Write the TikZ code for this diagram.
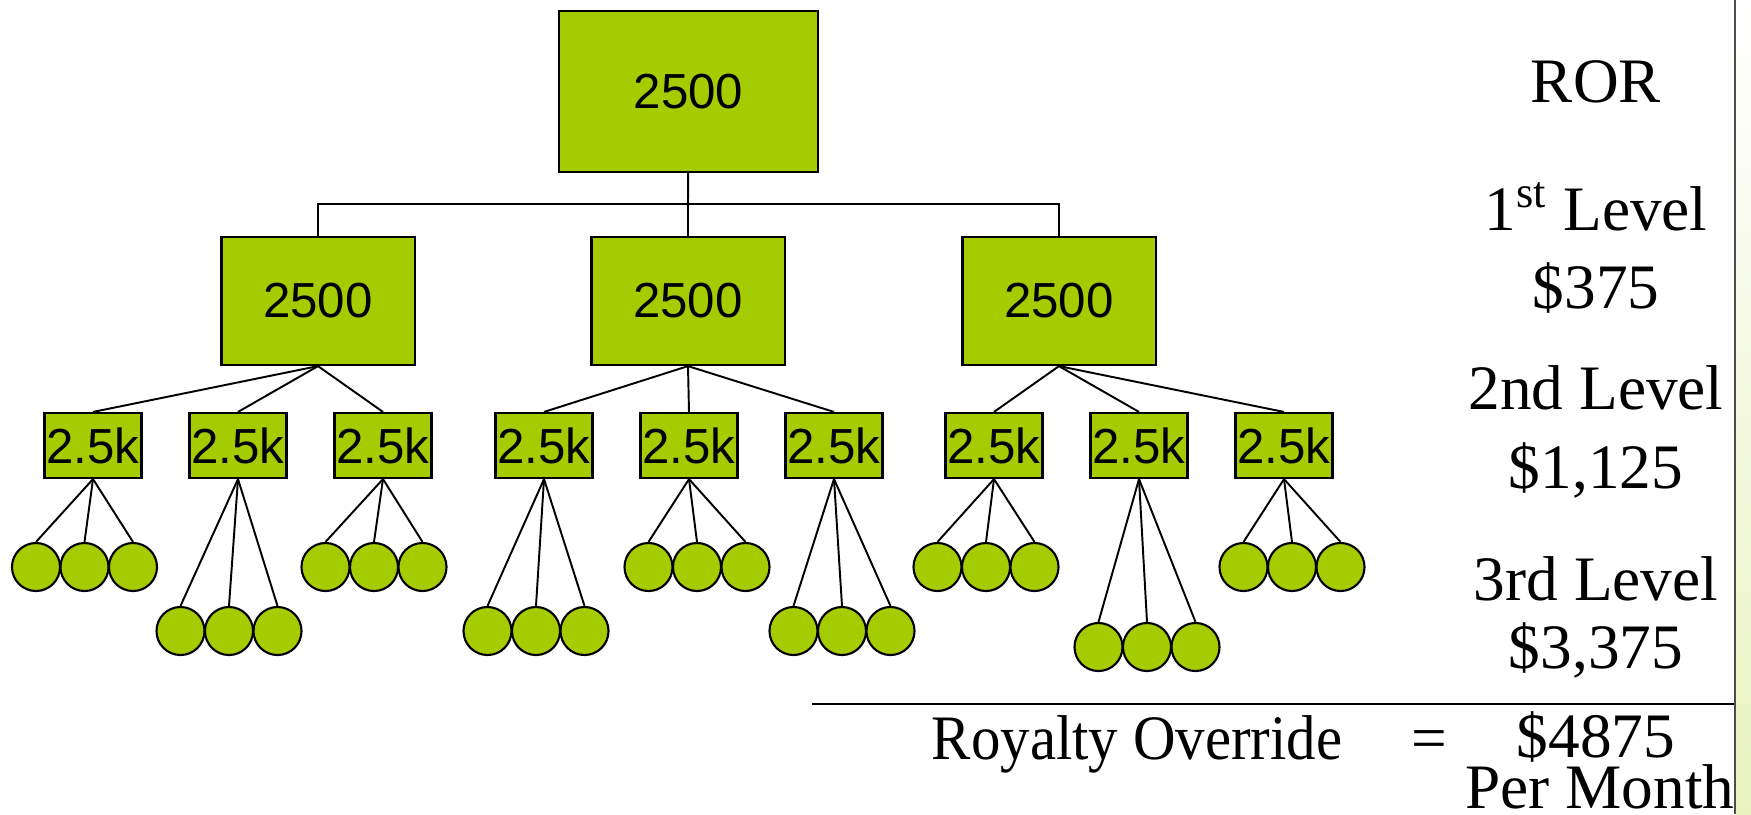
\documentclass[tikz,border=0pt]{standalone}
\usepackage{fontspec}
\setmainfont{Liberation Serif}
\setsansfont{Liberation Sans}
\definecolor{leaf}{RGB}{165,204,0}

\begin{document}
\begin{tikzpicture}[
  x=0.01cm, y=-0.01cm,
  box/.style={rectangle, draw, fill=leaf, line width=0.6pt, inner sep=0pt, font=\sffamily\fontsize{14}{16}\selectfont},
  topbox/.style={box, minimum width=2.59cm, minimum height=1.61cm},
  midbox/.style={box, minimum width=1.93cm, minimum height=1.28cm},
  kbox/.style={box, minimum width=0.97cm, minimum height=0.65cm},
  ball/.style={circle, draw, fill=leaf, line width=0.6pt, inner sep=0pt, minimum size=0.48cm},
  level/.style={anchor=base, font=\fontsize{18}{22}\selectfont},
  link/.style={line width=0.55pt}
]
\useasboundingbox (0,0) rectangle (1751,814);

% tree
\node[topbox] (top) at (688.5,91.5) {2500};
\node[midbox] (mid1) at (318,301) {2500};
\node[midbox] (mid2) at (688,301) {2500};
\node[midbox] (mid3) at (1059,301) {2500};
\coordinate (bar) at (688,204);

\draw[link] (top) -- (bar);
\draw[link] (mid1.north) |- (bar) -| (mid3.north);
\draw[link] (bar) -- (mid2);

\foreach \bx [count=\i] in {93,238,383,544,689,834,994,1139,1284}
  \node[kbox] (k\i) at (\bx,445.5) {2.5k};

\foreach \m/\a/\b/\c in {1/1/2/3, 2/4/5/6, 3/7/8/9}
  \foreach \k in {\a,\b,\c}
    \draw[link] (mid\m.south) -- (k\k.north);

% third level
\foreach \i/\cx/\cy in {1/84.5/567, 2/229/631, 3/374/567, 4/536/631, 5/697/567,
                        6/842/631, 7/986/567, 8/1147/647, 9/1292/567}
  \foreach \j/\dx in {a/-48.5, b/0, c/48.5} {
    \node[ball] (c\i\j) at (\cx+\dx,\cy) {};
    \draw[link] (k\i.south) -- (c\i\j.north);
  }

% right column
\node[level] (ror) at (1596,102) {ROR};
\node[level] (lvl1) at (1596,230) {1\textsuperscript{st} Level};
\node[level] (pay1) at (1596,308) {\$375};
\node[level] (lvl2) at (1596,409) {2nd Level};
\node[level] (pay2) at (1596,488) {\$1,125};
\node[level] (lvl3) at (1596,600) {3rd Level};
\node[level] (pay3) at (1596,668) {\$3,375};
\node[level] (total) at (1596,757) {\$4875};
\node[level] (month) at (1600,808) {Per Month};
\node[level, anchor=base east] (royalty) at (1460,759) {\scalebox{0.93}[1]{Royalty Override}\hspace{1.1em}=};

\draw[line width=0.8pt] (812,704) -- (1751,704);
\shade[top color=white, bottom color=leaf!25] (1736,0) rectangle (1751,814);
\draw[gray!60!black, line width=0.5pt] (1735,0) -- (1735,814);
\end{tikzpicture}
\end{document}
